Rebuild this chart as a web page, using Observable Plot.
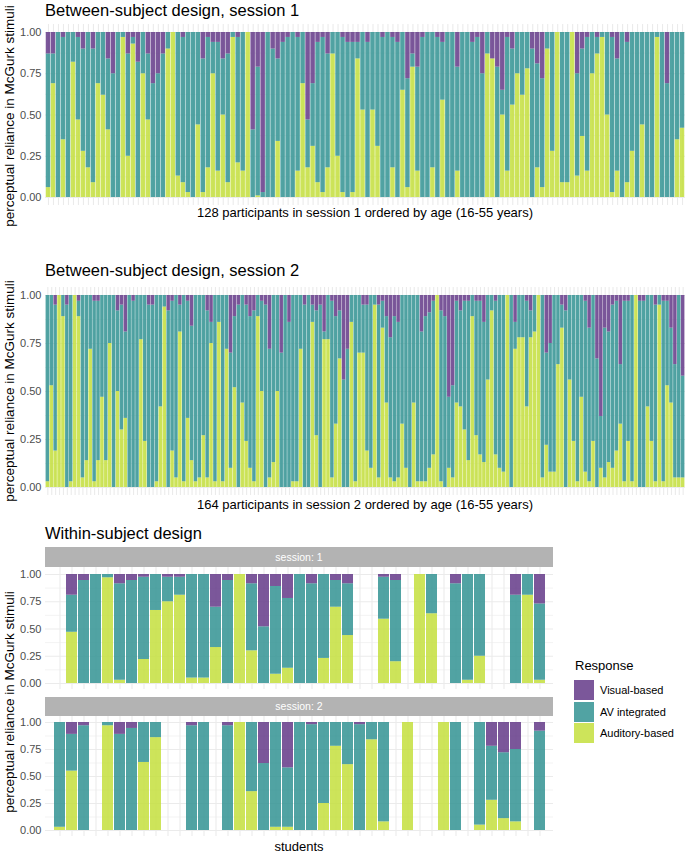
<!DOCTYPE html>
<html><head><meta charset="utf-8">
<script src="https://cdn.jsdelivr.net/npm/d3@7"></script>
<script src="https://cdn.jsdelivr.net/npm/@observablehq/plot@0.6"></script>
<style>
body{margin:0;background:#fff;font-family:"Liberation Sans",Arial,Helvetica,sans-serif;}
#wrap{position:relative;width:685px;height:854px;overflow:hidden;background:#fff;}
.abs{position:absolute;}
.title{font-size:16.5px;line-height:20px;color:#000;left:45px;white-space:nowrap;}
.xt{font-size:13px;line-height:16px;color:#000;text-align:center;white-space:nowrap;}
.yt{font-size:13.5px;line-height:16px;color:#000;white-space:nowrap;transform:translate(-50%,-50%) rotate(-90deg);}
.strip{background:#b3b3b3;color:#fff;font-size:10.5px;text-align:center;}
.leg{font-size:11px;color:#000;white-space:nowrap;}
</style></head><body><div id="wrap"></div>
<script>
// ---------- data ----------
const responses = ["Visual-based", "AV integrated", "Auditory-based"];   // legend order
const stackOrder = ["Auditory-based", "AV integrated", "Visual-based"]; // bottom -> top
const colors = ["#643a88", "#339393", "#c4df3d"];
const yTicks = [0, 0.25, 0.5, 0.75, 1];
const yMinor = [0.125, 0.375, 0.625, 0.875];

// Between-subject, session 1 (128 participants): auditory share and visual share
const s1Aud = [.06,.69,0,.35,0,.82,.47,.28,.18,.09,.69,.62,.41,0,0,.97,.25,.93,0,.75,.47,0,0,0,.9,1,.13,.09,.03,0,.44,.03,
.18,.75,.16,.5,.09,.97,.21,.16,1,0,.01,0,0,0,.34,0,0,0,.16,.69,.18,.31,.09,.03,.18,.87,.25,.03,0,.03,.84,.53,
0,.53,.31,0,0,.18,0,.65,.06,.79,.16,0,0,.18,0,.59,0,0,.16,0,0,0,0,0,.87,.84,0,.5,.16,.56,.75,.62,
.78,0,.18,.06,.9,.28,1,.09,.09,1,.13,.37,.16,.75,.87,.97,.5,.03,.16,0,.09,.28,0,.44,0,0,.97,0,0,0,.35,.42];
const s1Vis = [.13,.13,0,.03,0,0,.03,.1,0,.1,0,0,.16,.25,0,0,.13,.03,.18,0,.13,.31,.25,.13,0,0,0,.03,0,0,0,.16,
.03,.06,.06,.16,.13,0,.03,0,0,.59,.21,.97,0,.1,.16,.06,.03,0,.03,0,.53,.31,.06,.03,.13,0,0,.03,.06,.06,.06,0,
.06,0,0,.03,0,.03,.06,0,.28,.13,.21,.03,0,0,.03,.06,0,0,.21,0,0,.06,.03,.25,0,.16,.21,.35,.03,.1,0,0,
0,.1,.19,.28,0,0,0,0,0,0,.25,.1,.03,0,.03,0,0,.03,.16,0,.06,0,0,0,0,0,0,0,.31,0,0,0];

// Between-subject, session 2 (164 participants)
const s2Aud = [.03,.53,.19,1,.89,0,.03,1,.89,.05,.14,.72,.03,.14,.47,.14,.75,0,.5,.3,
.36,0,0,0,.77,.24,0,0,.03,.42,.94,0,.19,.05,.81,.03,.36,.14,.03,.05,
.27,.05,.75,.03,.86,.03,.72,.1,.52,0,.44,.24,.1,.03,.89,.5,0,.05,.13,.5,
0,0,0,.03,.03,.72,0,0,.86,.27,0,.77,.77,.05,.33,.67,0,0,.86,.03,
.7,.7,.19,.1,.95,.05,.83,.44,.05,.03,.05,.33,.1,0,.44,.03,.03,.03,.1,.17,
1,.03,0,.1,.05,.44,.42,.3,.14,.89,.27,.17,.13,.56,.92,.17,.1,.08,1,0,
.72,.78,.78,.42,.78,.81,1,.05,.22,.08,.08,.64,.83,0,.56,.24,.03,.47,.08,.03,
.24,0,.1,.05,.13,.1,.19,.33,.03,.24,.03,1,0,0,.42,.24,.03,.95,.03,.53,
.44,.05,.05,.05];
const s2Vis = [0,0,.05,0,0,.05,0,0,.03,0,0,0,.03,.03,0,0,0,0,.08,.05,
.19,0,.03,0,0,0,.05,.05,0,0,0,.08,.03,0,.05,0,.03,.16,0,0,
0,.08,.14,0,0,0,0,.3,.11,.05,0,.05,.11,.08,0,.03,.05,.28,0,0,
.3,0,.14,0,0,0,.05,0,.05,.08,.05,.19,0,.03,.11,.08,.44,.28,0,0,
0,.05,.05,0,0,.05,.03,.11,.22,.11,.14,0,0,0,0,0,.19,.11,.09,.03,
0,.08,.11,.53,.47,.03,.08,.03,.03,0,.03,.03,.14,0,0,.03,0,0,0,0,
.14,0,0,.03,.08,0,0,0,.3,.25,0,0,.05,.08,0,0,0,0,.03,.17,
0,.33,.63,.17,.19,.05,.03,.36,.03,.03,0,0,.03,.03,0,0,.05,0,.03,.03,
.17,.36,0,.42];

// Within-subject design (41 students; null = no data in that session)
const w1Aud = [null,.47,0,0,.97,.03,0,.22,.67,.75,.81,.05,.05,.33,0,1,.3,0,.085,.14,
0,0,.23,.7,.44,null,null,.59,.2,null,1,.64,null,0,.03,.25,null,null,0,.81,.03];
const w1Vis = [null,.19,.055,0,0,.085,.055,.025,0,.025,.025,0,0,.3,.055,0,.085,.48,.11,.22,
0,.085,0,.055,.085,null,null,.025,.055,null,0,0,null,.085,0,0,null,null,.19,0,.27];
const w2Aud = [.03,.55,0,null,.97,0,0,.63,.86,null,null,0,0,null,0,1,.36,0,.03,.03,
0,0,.25,.78,.61,0,.84,.08,null,1,null,null,1,0,null,.05,.28,.11,.08,null,0];
const w2Vis = [0,.11,.03,null,0,.11,.055,0,0,null,null,.03,0,null,.03,0,0,.38,0,.42,
0,.02,0,0,0,.02,0,0,null,0,null,null,0,0,null,0,.22,.28,.25,null,.08];

// ---------- helpers ----------
function rowsFrom(aud, vis) {
  const rows = [];
  aud.forEach((a, i) => {
    if (a == null) return;
    const v = vis[i] || 0;
    const id = String(i + 1);
    rows.push({id, resp: "Auditory-based", value: a});
    rows.push({id, resp: "AV integrated", value: Math.max(0, 1 - a - v)});
    rows.push({id, resp: "Visual-based", value: v});
  });
  return rows;
}

function panel({n, aud, vis, width, height, ml, mr, mt, mb, it, ib}) {
  const ids = d3.range(1, n + 1).map(String);
  return Plot.plot({
    width, height,
    marginLeft: ml, marginRight: mr, marginTop: mt, marginBottom: mb,
    style: {fontFamily: '"Liberation Sans", Arial, sans-serif', fontSize: "11px", background: "transparent"},
    x: {type: "band", domain: ids, paddingInner: 0.1, paddingOuter: 0.15, axis: null},
    y: {domain: [0, 1], insetTop: it, insetBottom: ib, axis: null},
    color: {domain: responses, range: colors},
    marks: [
      Plot.ruleY(yMinor, {stroke: "#ebebeb", strokeWidth: 0.6}),
      Plot.ruleY(yTicks, {stroke: "#ebebeb", strokeWidth: 1.1}),
      Plot.gridX({stroke: "#ebebeb", strokeOpacity: 1, strokeWidth: 1.1}),
      Plot.barY(rowsFrom(aud, vis), Plot.stackY({x: "id", y: "value", fill: "resp", order: stackOrder, fillOpacity: 0.85})),
      Plot.axisY({ticks: yTicks, tickFormat: d3.format(".2f"), tickSize: 0, tickPadding: 4, color: "#4d4d4d", label: null})
    ]
  });
}

const wrap = document.getElementById("wrap");
function place(el, left, top) {
  el.style.position = "absolute"; el.style.left = left + "px"; el.style.top = top + "px";
  wrap.appendChild(el); return el;
}
function div(cls, text, css) {
  const d = document.createElement("div");
  d.className = "abs " + cls; d.textContent = text;
  Object.assign(d.style, css); wrap.appendChild(d); return d;
}

// ---------- layout ----------
const yLab = "perceptual reliance in McGurk stimuli";

div("title", "Between-subject design, session 1", {top: "0px"});
place(panel({n: 128, aud: s1Aud, vis: s1Vis, width: 685, height: 185, ml: 45, mr: 0, mt: 2, mb: 2, it: 8, ib: 8}), 0, 22);
div("yt", yLab, {left: "10px", top: "116px"});
div("xt", "128 participants in session 1 ordered by age (16-55 years)", {left: "45px", width: "640px", top: "205px"});

div("title", "Between-subject design, session 2", {top: "260px"});
place(panel({n: 164, aud: s2Aud, vis: s2Vis, width: 685, height: 212, ml: 45, mr: 0, mt: 2, mb: 2, it: 8, ib: 8}), 0, 285);
div("yt", yLab, {left: "10px", top: "391px"});
div("xt", "164 participants in session 2 ordered by age (16-55 years)", {left: "45px", width: "640px", top: "497px"});

div("title", "Within-subject design", {top: "523px"});
div("strip", "session: 1", {left: "45px", top: "547px", width: "508px", height: "20px", lineHeight: "20px"});
place(panel({n: 41, aud: w1Aud, vis: w1Vis, width: 555, height: 124, ml: 45, mr: 2, mt: 0, mb: 2, it: 7, ib: 6}), 0, 567);
div("strip", "session: 2", {left: "45px", top: "697px", width: "508px", height: "19px", lineHeight: "19px"});
place(panel({n: 41, aud: w2Aud, vis: w2Vis, width: 555, height: 122, ml: 45, mr: 2, mt: 0, mb: 2, it: 6, ib: 6}), 0, 716);
div("yt", yLab, {left: "10px", top: "702px"});
div("xt", "students", {left: "45px", width: "508px", top: "839px"});

// legend
div("leg", "Response", {left: "575px", top: "658px", fontSize: "13px", lineHeight: "16px"});
responses.forEach((r, i) => {
  const y = 680 + i * 21.5;
  div("leg", "", {left: "574px", top: y + "px", width: "20px", height: "20px", background: colors[i], opacity: 0.85});
  div("leg", r, {left: "600px", top: (y + 3) + "px", lineHeight: "14px"});
});
</script></body></html>
